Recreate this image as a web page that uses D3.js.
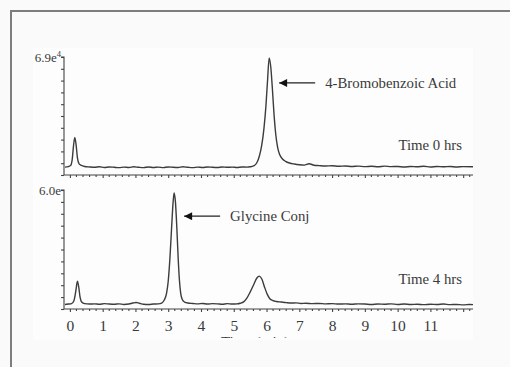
<!DOCTYPE html>
<html>
<head>
<meta charset="utf-8">
<script src="https://cdn.jsdelivr.net/npm/d3@7"></script>
<style>
  html, body { margin: 0; padding: 0; background: #fafafa; }
  svg { display: block; }
</style>
</head>
<body>
<div id="chart"></div>
<script>
// retention time (min) / signal
const time0 = [-0.15, -0.05, 0.02, 0.07, 0.11, 0.15, 0.19, 0.23, 0.28, 0.35, 0.45, 0.6, 0.75, 0.9, 1.05, 1.2, 1.35, 1.5, 1.65, 1.8, 1.95, 2.1, 2.25, 2.4, 2.55, 2.7, 2.85, 3.0, 3.15, 3.3, 3.45, 3.6, 3.75, 3.9, 4.05, 4.2, 4.35, 4.5, 4.65, 4.8, 4.95, 5.1, 5.25, 5.4, 5.5, 5.6, 5.7, 5.78, 5.85, 5.92, 5.98, 6.03, 6.08, 6.13, 6.18, 6.23, 6.28, 6.34, 6.4, 6.48, 6.58, 6.7, 6.85, 7.0, 7.15, 7.3, 7.45, 7.6, 7.8, 8.0, 8.2, 8.4, 8.6, 8.8, 9.0, 9.2, 9.4, 9.6, 9.8, 10.0, 10.2, 10.4, 10.6, 10.8, 11.0, 11.2, 11.4, 11.6, 11.8, 12.0, 12.3]
const signal0 = [4600, 4900, 5500, 9000, 17000, 22000, 17500, 10000, 6500, 5600, 5000, 4700, 4500, 4800, 4400, 4700, 4500, 4300, 4600, 4400, 4800, 4500, 4300, 4700, 4400, 4600, 4300, 4700, 4500, 4400, 4800, 4500, 4300, 4600, 4400, 4700, 4500, 4400, 4700, 4500, 4600, 4400, 4700, 4600, 4800, 5300, 7000, 11000, 17000, 27000, 40000, 55000, 68500, 63000, 50000, 35000, 24000, 16000, 12000, 9500, 8000, 7000, 6400, 6000, 5800, 6600, 5700, 5500, 5300, 5400, 5100, 5300, 5000, 5200, 4900, 5100, 4800, 5200, 4900, 5000, 4700, 5000, 4800, 5100, 4700, 5000, 4800, 5000, 4700, 4900, 4800]

const time4 = [-0.15, -0.05, 0.05, 0.12, 0.18, 0.23, 0.27, 0.31, 0.36, 0.45, 0.6, 0.75, 0.9, 1.05, 1.2, 1.35, 1.5, 1.65, 1.8, 1.92, 2.02, 2.12, 2.25, 2.4, 2.55, 2.7, 2.8, 2.88, 2.95, 3.0, 3.05, 3.1, 3.15, 3.18, 3.22, 3.26, 3.3, 3.34, 3.38, 3.43, 3.5, 3.6, 3.75, 3.9, 4.05, 4.2, 4.35, 4.5, 4.65, 4.8, 4.95, 5.1, 5.2, 5.3, 5.4, 5.5, 5.6, 5.7, 5.78, 5.86, 5.94, 6.02, 6.1, 6.2, 6.3, 6.45, 6.6, 6.75, 6.9, 7.05, 7.2, 7.4, 7.6, 7.8, 8.0, 8.2, 8.4, 8.6, 8.8, 9.0, 9.2, 9.4, 9.6, 9.8, 10.0, 10.2, 10.4, 10.6, 10.8, 11.0, 11.2, 11.4, 11.6, 11.8, 12.0, 12.2, 12.3]
const signal4 = [2300, 2500, 2700, 4000, 9000, 14000, 11000, 6000, 3500, 2700, 2500, 2600, 2400, 2700, 2500, 2400, 2600, 2300, 2500, 3000, 3300, 2900, 2400, 2300, 2500, 2600, 3000, 4500, 8000, 14000, 25000, 40000, 54000, 58500, 54000, 42000, 27000, 15000, 8000, 4800, 3500, 3000, 2800, 2600, 2800, 2500, 2700, 2600, 2400, 2700, 2500, 2600, 2900, 3600, 5500, 8500, 12000, 15500, 16600, 15000, 11000, 7500, 5200, 4200, 3800, 3500, 3200, 3000, 3100, 2800, 2900, 2700, 2800, 2600, 2700, 2500, 2600, 2400, 2600, 2500, 2300, 2500, 2400, 2600, 2300, 2500, 2300, 2400, 2200, 2400, 2300, 2500, 2200, 2300, 2100, 2300, 2200]

const timeDomain = [-0.18, 12.3]
const majorTicks = [0, 1, 2, 3, 4, 5, 6, 7, 8, 9, 10, 11, 12]
const tickLabels = ['0', '1', '2', '3', '4', '5', '6', '7', '8', '9', '10', '11', '']

const panels = [
  { time: time0, signal: signal0, max: 6.9e4, maxLabel: '6.9e', sup: '4', note: 'Time 0 hrs',
    arrowAt: 6.08, arrowValue: 0.78, name: '4-Bromobenzoic Acid', top: 57, bottom: 175 },
  { time: time4, signal: signal4, max: 6.0e4, maxLabel: '6.0e', sup: '', note: 'Time 4 hrs',
    arrowAt: 3.18, arrowValue: 0.78, name: 'Glycine Conj', top: 190, bottom: 309 }
]

const width = 510
const height = 367
const serif = '"Liberation Serif", "Times New Roman", serif'
const ink = '#3a3a3a'

const svg = d3.select('#chart').append('svg')
  .attr('width', width)
  .attr('height', height)

// outer frame (only top and left edges show in the picture)
svg.append('path')
  .attr('d', `M11,${height} L11,11 L${width},11`)
  .attr('fill', 'none')
  .attr('stroke', '#7d7d7d')
  .attr('stroke-width', 2)

svg.append('rect')
  .attr('x', 33).attr('y', 48)
  .attr('width', 440).attr('height', 292)
  .attr('fill', '#fdfdfd')

const x = d3.scaleLinear().domain(timeDomain).range([64, 473])

const defs = svg.append('defs')
defs.append('marker')
  .attr('id', 'head')
  .attr('viewBox', '0 0 10 10')
  .attr('refX', 10).attr('refY', 5)
  .attr('markerWidth', 11).attr('markerHeight', 8)
  .attr('markerUnits', 'userSpaceOnUse')
  .attr('orient', 'auto')
  .append('path')
  .attr('d', 'M10,5 L0,0 L0,10 Z')
  .attr('fill', '#111')

defs.append('clipPath').attr('id', 'cut')
  .append('rect').attr('x', 0).attr('y', 0).attr('width', width).attr('height', 338)

const minorTicks = d3.range(0, 12.31, 0.2).filter(t => Math.abs(t - Math.round(t)) > 0.01)

panels.forEach((p, i) => {
  const y = d3.scaleLinear().domain([0, p.max]).range([p.bottom, p.top])
  const g = svg.append('g')

  // y axis, ten small ticks
  const yAxis = d3.axisLeft(y)
    .tickValues(d3.range(0, 11).map(k => k * p.max / 10))
    .tickSize(3)
    .tickFormat('')
  g.append('g')
    .attr('transform', `translate(${x(timeDomain[0])},0)`)
    .call(yAxis)
    .call(s => s.select('.domain').attr('d', `M-3,${p.top}H0V${p.bottom}`))

  // x axis: major ticks + minor ticks every 0.2 min
  const xAxis = d3.axisBottom(x)
    .tickValues(majorTicks)
    .tickSize(3)
    .tickFormat(i === 1 ? (d, k) => tickLabels[k] : '')
    .tickPadding(8)
  const ax = g.append('g')
    .attr('transform', `translate(0,${p.bottom})`)
    .call(xAxis)
  ax.select('.domain').attr('d', `M${x(timeDomain[0])},0H${x(timeDomain[1])}`)
  ax.selectAll('.minor')
    .data(minorTicks)
    .join('line')
    .attr('class', 'minor')
    .attr('x1', d => x(d)).attr('x2', d => x(d))
    .attr('y1', 0).attr('y2', 2)

  g.selectAll('.domain, .tick line, .minor')
    .attr('stroke', '#444')
    .attr('stroke-width', 1.1)
  g.selectAll('.tick text')
    .attr('font-family', serif)
    .attr('font-size', 15.5)
    .attr('fill', ink)

  // max label
  const lbl = g.append('text')
    .attr('x', 61)
    .attr('y', p.top + 5)
    .attr('text-anchor', 'end')
    .attr('font-family', serif)
    .attr('font-size', 13)
    .attr('fill', ink)
  lbl.append('tspan').text(p.maxLabel)
  if (p.sup) {
    lbl.append('tspan').attr('font-size', 8.5).attr('dy', -5).text(p.sup)
  }

  // trace
  const pts = d3.zip(p.time, p.signal)
  g.append('path')
    .datum(pts)
    .attr('fill', 'none')
    .attr('stroke', '#3c3c3c')
    .attr('stroke-width', 1.4)
    .attr('stroke-linejoin', 'round')
    .attr('d', d3.line()
      .x(d => x(d[0]))
      .y(d => y(d[1]))
      .curve(d3.curveMonotoneX))

  // annotation arrow
  const ay = y(p.max * p.arrowValue)
  const tip = x(p.arrowAt) + 10
  g.append('line')
    .attr('x1', tip + 36).attr('y1', ay)
    .attr('x2', tip).attr('y2', ay)
    .attr('stroke', '#222')
    .attr('stroke-width', 1.2)
    .attr('marker-end', 'url(#head)')
  g.append('text')
    .attr('x', tip + 46)
    .attr('y', ay + 5)
    .attr('font-family', serif)
    .attr('font-size', 14.8)
    .attr('fill', ink)
    .text(p.name)

  g.append('text')
    .attr('x', 462)
    .attr('y', p.bottom - 25)
    .attr('text-anchor', 'end')
    .attr('font-family', serif)
    .attr('font-size', 14.8)
    .attr('fill', ink)
    .text(p.note)
})

// x axis title, cut off in the original figure
svg.append('text')
  .attr('clip-path', 'url(#cut)')
  .attr('x', 255)
  .attr('y', 347)
  .attr('text-anchor', 'middle')
  .attr('font-family', serif)
  .attr('font-size', 15)
  .attr('fill', ink)
  .text('Time (min)')
</script>
</body>
</html>
